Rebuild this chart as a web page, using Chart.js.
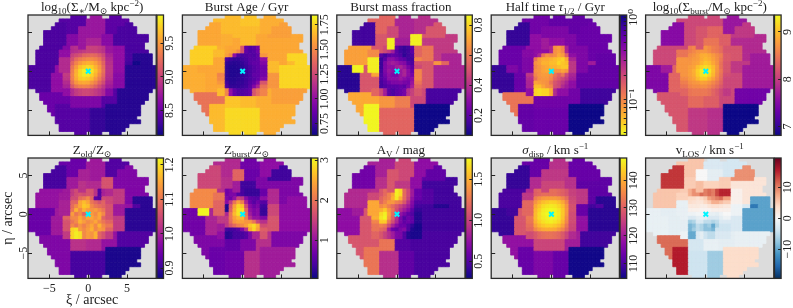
<!DOCTYPE html>
<html><head><meta charset="utf-8">
<style>html,body{margin:0;padding:0;background:#fff;width:793px;height:308px;overflow:hidden}
canvas{position:absolute;left:0;top:0}</style>
<script src="https://cdn.jsdelivr.net/npm/chart.js@4"></script>
</head><body>
<script>
// Shared spatial-bin map: one character per grid cell; '.' is no data; '#' belongs to the 11x11 inner bins
const binMap=[
"...........aaaa.bbb..ccc.........",
"........aaaaaaabbbbbcccccc.......",
".......dddaaaaabbbbbcccccjj......",
"......ddddaaahhhiiiicccjjjjj.....",
"....ddddddaaahhhiiiicccjjjjj.....",
"....ddddddeeehhhiiigggjjjjjjkkk..",
"....ddddddeeeffFFFFgggkkkkkkkkk..",
"....ddddddeeeffFFFFgggkkkkkkkk...",
"...llllllee##ff#######CCCkkkkk...",
"..llllllmmm###########CCCkkkkkk..",
"..llllllmmm###########CCCkkzzzzz.",
"..llllllooo###########CCCkkzzzzz.",
"..llllllooo###########DDDBBGGzzz.",
"ppppnnnqooo###########DDDzzzzzzzz",
"ppppnnnqooo###########DDDzzzzzzzz",
"ppppppqqq#############EEEzzzzzzzz",
"ppppppqqq#############EEEzzzzzzzz",
"ppppppqqq#############EEEzzzzzzzz",
"ppppppqqq#############EEEzzzzzzzz",
"..ppppqqq#############Avvvvvvvvv.",
"...rrrrrr#############Avvvvvvvv..",
"...rrrrrrrrxxxxyyyyAAAAvvvvvvvv..",
"....rrrrrrrxxxxyyyyAAAAvvvvvvv...",
".....rrssssxxxxyyyyAwwwwwwwww....",
".....rrsssstttttuuuuwwwwwwwww....",
"......rsssstttttuuuuwwwwwwwww....",
".......sssstttttuuuuwwwwwwww.....",
".......sssstttttuuuuwwwwwwwww....",
"........ssstttttuuuuwwwwww.......",
"........ssstttttuuuuwwwww........",
"............ttt.uuu..www........."];
const outerBins="abcdefghijklmnopqrstuvwxyzABCDEFG";
const innerColGroup=[0,0,1,2,3,4,5,6,7,8,9,10,10];
const innerRowGroup=[0,0,1,2,3,4,5,6,7,8,9,10,10];
const xCenters=[-7.5,-7,-6.5,-6,-5.5,-5,-4.5,-4,-3.5,-3,-2.5,-2,-1.5,-1,-.5,0,.5,1,1.5,2,2.5,3,3.5,4,4.5,5,5.5,6,6.5,7,7.5,8,8.5];
const yCenters=[7,6.5,6,5.5,5,4.5,4,3.5,3,2.5,2,1.5,1,.5,0,-.5,-1,-1.5,-2,-2.5,-3,-3.5,-4,-4.5,-5,-5.5,-6,-6.5,-7,-7.5,-8];
const mapTicks=[-5,0,5];

// Values per bin: the 33 outer bins, then 11 rows of 11 inner bins
const stellarMass=[8.40,8.72,8.43,8.36,8.61,8.72,8.63,8.72,8.72,8.35,8.35,8.36,8.67,8.36,8.85,8.36,8.67,8.49,8.40,8.40,8.27,8.22,8.22,8.58,8.58,8.22,8.40,8.31,8.67,8.67,8.63,8.81,8.15,
8.72,8.85,8.88,8.92,8.95,8.99,8.99,8.99,8.95,8.9,8.72,
8.81,8.99,9.05,9.1,9.2,9.22,9.25,9.22,9.15,9.03,8.8,
8.85,9.08,9.25,9.33,9.38,9.42,9.42,9.38,9.3,9.12,8.85,
8.88,9.2,9.38,9.5,9.58,9.62,9.6,9.52,9.4,9.2,8.88,
8.92,9.3,9.5,9.68,9.75,9.8,9.75,9.62,9.47,9.25,8.9,
8.95,9.35,9.6,9.78,9.88,9.92,9.84,9.68,9.5,9.27,8.9,
8.95,9.38,9.62,9.78,9.86,9.85,9.76,9.62,9.42,9.22,8.88,
8.92,9.36,9.58,9.72,9.75,9.72,9.65,9.5,9.33,9.15,8.85,
8.85,9.28,9.48,9.56,9.58,9.56,9.46,9.36,9.2,9.05,8.8,
8.8,9.14,9.3,9.36,9.38,9.36,9.28,9.18,9.05,8.92,8.75,
8.67,8.85,8.95,9.0,9.03,9.03,9.0,8.95,8.9,8.82,8.61];
const burstAge=[1.67,1.70,1.63,1.61,1.63,1.61,1.61,1.67,1.67,1.58,1.61,1.73,1.67,1.61,1.61,1.63,1.61,1.42,1.67,1.76,1.76,1.58,1.63,1.70,1.67,1.75,1.63,1.61,1.61,1.67,1.55,1.67,1.67,
1.61,1.61,1.6,1.58,1.5,1.3,.85,.8,.82,.9,1.61,
1.61,1.58,1.5,1.0,.8,.78,.8,.82,.8,.85,1.55,
1.61,.78,.74,.72,.72,.75,.78,.82,.82,.85,1.0,
1.55,.72,.7,.69,.7,.72,.76,.82,.85,.85,.95,
1.5,.7,.68,.68,.69,.7,.74,.78,.82,.85,.9,
1.42,.7,.68,.68,.68,.7,.74,.78,.82,.85,.9,
1.48,.7,.68,.68,.69,.71,.74,.78,.85,.85,.9,
1.5,.7,.69,.69,.7,.72,.75,.78,.82,.86,.95,
1.55,.75,.7,.7,.72,.72,.75,.8,.85,.95,1.3,
1.61,.8,.72,.72,.72,.74,.76,.82,.95,1.1,1.42,
1.67,1.48,1.0,.85,.8,.8,.82,.85,1.3,1.4,1.48];
const burstFraction=[.55,.37,.40,.15,.51,.85,.85,.47,.37,.51,.43,.69,.64,.86,.85,.11,.51,.71,.86,.55,.55,.16,.07,.67,.61,.37,.47,.67,.59,.51,.51,.35,.55,
.67,.51,.47,.43,.35,.2,.15,.13,.15,.2,.55,
.79,.2,.15,.2,.22,.2,.18,.12,.15,.17,.55,
.79,.14,.2,.3,.3,.26,.22,.2,.15,.15,.63,
.83,.14,.27,.33,.35,.33,.3,.28,.2,.17,.5,
.83,.14,.27,.31,.3,.35,.37,.33,.26,.2,.47,
.83,.15,.27,.33,.3,.27,.33,.37,.3,.22,.63,
.7,.17,.25,.31,.27,.27,.33,.37,.3,.25,.63,
.51,.18,.22,.3,.3,.3,.33,.3,.27,.3,.63,
.51,.16,.2,.24,.27,.27,.28,.26,.25,.33,.59,
.51,.16,.18,.2,.2,.2,.22,.2,.27,.36,.55,
.55,.47,.35,.2,.17,.2,.22,.25,.4,.45,.51];
const halfTime=[.51,.58,.58,.82,.39,.33,.46,.46,.46,.55,.55,.55,.43,.46,.46,.82,.55,.12,.58,.55,.55,.77,1.07,.51,.51,.58,.51,.33,.46,.46,.58,.39,.58,
.46,.39,.39,.39,.39,.3,.09,.08,.1,.3,.46,
.39,.39,.3,.12,.09,.1,.09,.07,.08,.15,.39,
.33,.12,.08,.07,.07,.065,.06,.055,.05,.07,.3,
.28,.09,.08,.065,.065,.06,.06,.05,.055,.06,.24,
.24,.1,.085,.075,.07,.065,.065,.06,.055,.055,.24,
.2,.09,.085,.075,.07,.07,.085,.085,.075,.085,.24,
.24,.1,.085,.08,.08,.09,.12,.15,.12,.2,.3,
.28,.12,.09,.085,.085,.1,.14,.17,.2,.24,.33,
.3,.075,.08,.085,.09,.12,.17,.2,.24,.3,.39,
.3,.06,.06,.075,.09,.1,.18,.2,.28,.33,.39,
.39,.05,.046,.05,.05,.07,.28,.39,.39,.39,.51];
const burstMass=[8.09,8.09,7.65,7.52,8.09,8.21,8.29,8.21,8.34,7.96,7.83,8.09,8.47,7.70,8.72,7.45,8.34,8.21,8.21,7.96,7.88,7.37,6.81,8.39,8.29,7.70,8.09,7.96,8.21,7.96,8.09,8.47,7.70,
8.47,8.55,8.62,8.7,8.72,8.72,8.65,8.55,8.5,8.4,8.21,
8.6,8.65,8.7,8.78,8.88,8.9,8.85,8.75,8.65,8.55,8.25,
8.65,8.7,8.75,8.78,8.88,8.95,8.9,8.8,8.68,8.5,8.25,
8.65,8.72,8.78,8.82,8.95,9.05,9.0,8.85,8.7,8.45,8.21,
8.7,8.78,8.82,9.0,9.12,9.2,9.12,8.98,8.75,8.45,8.21,
8.72,8.8,8.9,9.1,9.28,9.36,9.25,9.0,8.72,8.5,8.21,
8.72,8.8,8.88,9.08,9.25,9.3,9.15,8.95,8.68,8.45,8.15,
8.65,8.75,8.82,8.98,9.1,9.1,8.95,8.8,8.6,8.4,8.09,
8.55,8.68,8.72,8.75,8.82,8.8,8.72,8.62,8.5,8.34,8.09,
8.47,8.6,8.65,8.65,8.68,8.68,8.6,8.5,8.4,8.25,8.09,
8.34,8.47,8.5,8.5,8.5,8.5,8.45,8.34,8.25,8.1,7.96];
const zOld=[.94,.99,.92,.91,.99,1.02,1.06,1.0,.99,.96,.96,.98,.99,.94,1.0,.94,.99,.96,.96,.91,.91,.92,.88,1.02,1.01,.89,.98,.98,1.03,.99,1.03,1.01,.92,
1.02,1.03,1.05,1.06,1.05,1.06,1.06,1.02,.92,1.0,1.01,
1.045,1.05,1.05,1.09,1.1,1.12,1.08,.93,.92,1.05,1.045,
1.045,1.08,1.08,1.15,1.17,1.15,1.1,1.08,1.06,1.08,1.045,
1.045,1.09,1.12,1.15,1.18,1.17,1.12,1.1,1.09,1.08,1.06,
1.06,1.1,1.16,1.12,1.16,1.14,1.13,1.14,1.12,1.1,1.06,
1.08,1.14,1.1,1.12,1.08,1.1,1.14,1.12,1.15,1.12,1.06,
1.08,1.12,1.12,1.15,1.12,1.15,1.15,1.13,1.15,1.08,1.06,
1.06,1.1,1.12,1.16,1.14,1.12,1.13,1.15,1.12,1.1,1.08,
1.06,1.12,1.1,1.13,1.11,1.13,1.15,1.12,1.16,1.12,1.1,
1.06,1.19,1.2,1.14,1.12,1.14,1.16,1.12,1.14,1.13,1.08,
1.03,1.19,1.21,1.2,1.12,1.14,1.13,1.16,1.08,1.06,1.03];
const zBurst=[1.25,.71,.95,1.55,1.31,1.1,.8,1.85,.65,.35,.8,2.2,2.0,3.03,1.85,.71,1.19,.8,.65,.71,1.31,.8,1.1,.59,.8,.95,1.31,.95,1.25,1.55,1.7,.35,.95,
.65,.7,.8,.8,.5,.4,.3,.3,.3,.3,.65,
.95,.8,.7,1.0,1.5,1.4,.9,.6,.55,.5,.95,
1.2,.9,1.4,2.0,2.4,2.1,1.2,.7,.5,.7,.5,
1.55,.15,1.7,2.4,2.8,2.7,1.6,.9,.7,.8,.35,
1.55,.15,1.8,2.5,2.9,2.9,1.9,1.0,.8,.9,.3,
1.55,1.2,2.0,2.6,2.9,2.9,2.0,1.1,.8,.9,.3,
1.4,1.4,2.0,2.4,2.6,2.6,2.1,1.3,1.0,1.0,.8,
1.4,1.4,1.9,2.3,2.4,2.4,2.3,2.3,2.0,1.5,1.3,
1.1,1.4,1.7,1.9,2.1,2.2,2.4,2.7,2.85,2.5,1.6,
1.1,.4,.35,.4,.5,.8,1.3,2.5,2.8,2.4,1.8,
.95,.2,.25,.4,.4,.4,.5,.8,1.2,1.2,1.7];
const extinction=[.83,1.03,.73,.61,.91,1.1,.73,1.1,1.03,.55,.44,.88,1.03,.80,1.47,.73,1.1,1.1,1.25,.91,.55,.47,.47,1.25,.51,.44,.47,.36,.51,.44,.44,.95,.36,
.95,1.1,1.2,1.3,1.45,1.73,1.65,1.2,1.03,.8,.58,
1.03,1.17,1.25,1.3,1.5,1.7,1.5,1.2,1.0,.75,.58,
1.03,1.2,1.3,1.4,1.4,1.3,1.25,1.1,.9,.7,.5,
1.32,1.35,1.4,1.3,1.2,1.1,1.0,.9,.8,.66,.45,
1.4,1.5,1.6,1.4,1.25,1.05,.9,.8,.7,.55,.4,
1.5,1.65,1.73,1.45,1.2,.95,.75,.65,.55,.5,.36,
1.5,1.7,1.75,1.4,1.15,.9,.65,.5,.6,.55,.36,
1.32,1.6,1.6,1.25,1.05,.85,.65,.55,.6,.55,.36,
1.25,1.3,1.25,1.05,.85,.7,.6,.6,.5,.4,.32,
1.25,1.2,1.15,.8,.6,.55,.65,.7,.5,.35,.32,
1.17,1.1,1.0,.9,.8,.66,.65,.5,.36,.33,.33];
const sigmaDisp=[113,123,113,108,122,126,123,124,124,113,112,110,124,109,131,108,128.5,118,113,115.5,113,109,105,126,126,107,120,109,124,113,118,126,111,
128.5,130,131,132,132,132,132,131,130,128.5,125.4,
131.5,134,136,137.5,138,138,138,137,135,132,126.3,
132,137,140,142,143,144,143.5,142,139.5,135,127,
132.8,139.5,142.5,145,146,146.5,146,144.5,142,137,128,
134,141,144,146.5,147.5,148,147.5,146,143,137.5,128,
134,141.5,145,147,148,148,148,146.5,143,137,127,
133.5,141.5,145,146.5,147.5,148,147.5,146,142.5,136,127,
133,140.5,143.5,145.5,146.5,147,146,144.5,141,135,127,
132,138.5,141.5,143,144,144,143,141.5,138.5,133,126.3,
131,135.5,138,139.5,140,140,139.5,137.5,135,131,126,
127,129,131,132,132.5,132.5,132,131,129,126,122];
const vLos=[5.5,-3,-3.5,14,5,6,5,0,-2,9,2.5,5.5,4.5,-2,-1.5,-1.5,-2,11,15.5,-4,-7,-1.5,3.5,-3.5,-1.5,-10.5,-2,-3,1,-1,-3,4.5,-14,
5,7,9,9,11,10,11,10,13,15,15,
3,4,4,3,4,5,8,9,10,11,8,
3,3.5,3,2.5,2.5,4,5,7,7,6,5,
1,2,2,2,1.5,1.5,2.5,3,3,2.5,2,
.5,1,1,1,.5,.5,.5,1,1,1,1,
-1,-1,-1,-.5,-.5,-.5,-1.5,-1.5,-2,-1,0,
-1.5,-3,-3,-2,-1.5,-2,-3,-3,-3,-2,-1,
-2,-7,-6,-3,-3,-5,-5,-6,-5,-3,-3,
-2,-9,-8,-5,-6,-8,-7,-10,-6,-4,-4,
-2,-9,-7,-5,-6,-8,-8,-9,-4,-4,-4,
-1,-10,-10,-3,-2,-4,-5,-5,-3,-3,-3];

// Colour bar tick labels
const massTicks=[8.5,9.0,9.5];
const ageTicks=[.75,1,1.25,1.5,1.75];
const fractionTicks=[.2,.4,.6,.8];
const halfTimeTicks=[1,.1];
const halfTimeMinor=[.04,.05,.06,.07,.08,.09,.2,.3,.4,.5,.6,.7,.8,.9];
const burstMassTicks=[7,8,9];
const zOldTicks=[.9,1,1.1,1.2];
const zBurstTicks=[1,2,3];
const avTicks=[.5,1,1.5];
const sigmaTicks=[110,120,130,140];
const vTicks=[-10,0,10];

const plasma=['#0d0887','#41049d','#6a00a8','#8f0da4','#b12a90','#cc4778','#e16462','#f2844b','#fca636','#fcce25','#f0f921'];
const plasmaR=plasma.slice().reverse();
const rdbuR=['#053061','#2166ac','#4393c3','#92c5de','#d1e5f0','#f7f7f7','#fddbc7','#f4a582','#d6604d','#b2182b','#67001f'];

const FONT='"Liberation Serif","DejaVu Serif",serif';
const S='sub',P='sup',I='it';
const panels=[
{v:stellarMass,min:8.13,max:9.92,cm:plasma,t:massTicks,f:x=>x.toFixed(1),title:[['log'],['10',S],['(Σ'],['∗',S],['/M'],['⊙',S],[' kpc'],['−2',P],[')']]},
{v:burstAge,min:.63,max:1.85,cm:plasma,t:ageTicks,f:x=>x.toFixed(2),title:[['Burst Age / Gyr']]},
{v:burstFraction,min:.067,max:.867,cm:plasma,t:fractionTicks,f:x=>x.toFixed(1),title:[['Burst mass fraction']]},
{v:halfTime,min:.037,max:1.07,cm:plasmaR,log:true,t:halfTimeTicks,minor:halfTimeMinor,f:x=>x===1?'10⁰':'10⁻¹',title:[['Half time '],['τ',I],['1/2',S],[' / Gyr']]},
{v:burstMass,min:6.81,max:9.36,cm:plasma,t:burstMassTicks,f:x=>String(x),title:[['log'],['10',S],['(Σ'],['burst',S],['/M'],['⊙',S],[' kpc'],['−2',P],[')']]},
{v:zOld,min:.87,max:1.22,cm:plasma,t:zOldTicks,f:x=>x.toFixed(1),title:[['Z'],['old',S],['/Z'],['⊙',S]]},
{v:zBurst,min:.05,max:3.05,cm:plasma,t:zBurstTicks,f:x=>String(x),title:[['Z'],['burst',S],['/Z'],['⊙',S]]},
{v:extinction,min:.29,max:1.76,cm:plasma,t:avTicks,f:x=>x.toFixed(1),title:[['A'],['V',S],[' / mag']]},
{v:sigmaDisp,min:104.6,max:148,cm:plasma,t:sigmaTicks,f:x=>String(x),title:[['σ',I],['disp',S],[' / km s'],['−1',P]]},
{v:vLos,min:-19.5,max:19.5,cm:rdbuR,t:vTicks,f:x=>(x<0?'−':'')+Math.abs(x),title:[['v'],['LOS',S],[' / km s'],['−1',P]]}
];

const W=793,H=308,LEFT=28,STEP=154.4,PW=128.2,TOPS=[15,158],PH=120.4,AXW=28,AXH=30;
const mctx=document.createElement('canvas').getContext('2d');
const tickFont={family:FONT,size:12};
function textW(s,size){mctx.font=size+'px '+FONT;return mctx.measureText(s).width}
function colorAt(cm,t){t=Math.max(0,Math.min(1,t))*(cm.length-1);const i=Math.min(cm.length-2,Math.floor(t)),k=t-i;
  const h=s=>[1,3,5].map(j=>parseInt(s.substr(j,2),16));const a=h(cm[i]),b=h(cm[i+1]);
  return 'rgb('+a.map((x,j)=>Math.round(x+(b[j]-x)*k)).join(',')+')'}
function newCanvas(){const c=document.createElement('canvas');c.width=W;c.height=H;c.style.width=W+'px';c.style.height=H+'px';c.style.pointerEvents='none';document.body.appendChild(c);return c}
function drawSegs(ctx,segs,cx,base){
  const fs=s=>{const k=s[1];return (k===S||k===P?9:13)};
  const fnt=s=>(s[1]===I?'italic ':'')+fs(s)+'px '+FONT;
  let tot=0;segs.forEach(s=>{ctx.font=fnt(s);tot+=ctx.measureText(s[0]).width});
  let x=cx-tot/2;ctx.textAlign='left';ctx.textBaseline='alphabetic';ctx.fillStyle='#222';
  segs.forEach(s=>{ctx.font=fnt(s);const dy=s[1]===S?3:s[1]===P?-5:0;ctx.fillText(s[0],x,base+dy);x+=ctx.measureText(s[0]).width});
}
const framePlugin={id:'frame',
  beforeDatasetsDraw(ch,a,o){if(!o.bg)return;const c=ch.chartArea,x=ch.ctx;x.save();x.fillStyle=o.bg;x.fillRect(c.left,c.top,c.width,c.height);x.restore()},
  afterDraw(ch,a,o){const c=ch.chartArea,x=ch.ctx;x.save();x.strokeStyle='#2a2a2a';x.lineWidth=1.3;x.strokeRect(c.left,c.top,c.width,c.height);
    if(o.title)drawSegs(x,o.title,(c.left+c.right)/2,c.top-4);x.restore()}};

panels.forEach((p,i)=>{
  const col=i%5,row=Math.floor(i/5),x0=LEFT+col*STEP,x1=x0+PW,y0=TOPS[row],y1=y0+PH;
  const cells=[],cols=[];
  binMap.forEach((line,r)=>{for(let c=0;c<line.length;c++){const ch=line[c];if(ch==='.')continue;
    const id=ch==='#'?outerBins.length+11*innerRowGroup[r-8]+innerColGroup[c-9]:outerBins.indexOf(ch);
    const val=p.v[id];
    const t=p.log?(Math.log10(val)-Math.log10(p.min))/(Math.log10(p.max)-Math.log10(p.min)):(val-p.min)/(p.max-p.min);
    cells.push({x:xCenters[c],y:yCenters[r]});cols.push(colorAt(p.cm,t));}});
  const isCorner=i===5;
  const labW=textW('−5',12);
  new Chart(newCanvas(),{type:'scatter',
    data:{datasets:[
      {data:[{x:0,y:0}],order:0,pointStyle:'crossRot',pointRadius:3.2,borderColor:'#00f5ff',backgroundColor:'#00f5ff',borderWidth:2,pointBorderWidth:2},
      {data:cells,order:1,pointStyle:'rect',backgroundColor:cols,borderColor:cols,pointBorderWidth:.8,
       pointRadius:c=>(c.chart.chartArea?c.chart.chartArea.width/33:3.88)*Math.SQRT1_2}
    ]},
    options:{responsive:false,animation:false,devicePixelRatio:1,events:[],
      layout:{padding:{left:x0-AXW,right:W-x1,top:y0,bottom:H-y1-AXH}},
      plugins:{legend:{display:false},tooltip:{enabled:false},title:{display:false},frame:{bg:'#dcdcdc',title:p.title}},
      scales:{
        x:{type:'linear',min:-7.75,max:8.75,afterBuildTicks:s=>{s.ticks=mapTicks.map(v=>({value:v}))},afterFit:s=>{s.height=AXH},
          grid:{drawOnChartArea:false,drawTicks:true,tickLength:-4,tickColor:'#222',z:1},border:{display:false},
          ticks:{display:isCorner,font:tickFont,color:'#222',padding:7,autoSkip:false,maxRotation:0,callback:v=>(v<0?'−':'')+Math.abs(v)},
          title:{display:isCorner,text:'ξ / arcsec',font:{family:FONT,size:14},color:'#222',padding:0}},
        y:{type:'linear',min:-8.25,max:7.25,afterBuildTicks:s=>{s.ticks=mapTicks.map(v=>({value:v}))},afterFit:s=>{s.width=AXW},
          grid:{drawOnChartArea:false,drawTicks:true,tickLength:-4,tickColor:'#222',z:1},border:{display:false},
          ticks:{display:isCorner,font:tickFont,color:'#222',padding:8-labW/2,autoSkip:false,minRotation:90,maxRotation:90,crossAlign:'center',callback:v=>(v<0?'−':'')+Math.abs(v)},
          title:{display:isCorner,text:'η / arcsec',font:{family:FONT,size:14},color:'#222',padding:0}}
      }},
    plugins:[framePlugin]});

  // colour bar
  const cb0=x1+.7,cb1=cb0+6.6,CBW=12;
  const labels=p.t.map(p.f);const wid=Math.max(...labels.map(s=>textW(s,12)));
  const allTicks=p.t.concat(p.minor||[]);
  new Chart(newCanvas(),{type:'bar',
    data:{labels:[''],datasets:[{data:[[p.min,p.max]],barPercentage:1,categoryPercentage:1,borderSkipped:false,borderWidth:0,
      backgroundColor:c=>{const a=c.chart.chartArea;if(!a)return p.cm[0];const g=c.chart.ctx.createLinearGradient(0,a.bottom,0,a.top);p.cm.forEach((s,k)=>g.addColorStop(k/(p.cm.length-1),s));return g}}]},
    options:{responsive:false,animation:false,devicePixelRatio:1,events:[],
      layout:{padding:{left:cb0,right:W-cb1-CBW,top:y0,bottom:H-y1}},
      plugins:{legend:{display:false},tooltip:{enabled:false},frame:{}},
      scales:{
        x:{display:false},
        y:{type:p.log?'logarithmic':'linear',position:'right',min:p.min,max:p.max,
          afterBuildTicks:s=>{s.ticks=allTicks.map(v=>({value:v}))},afterFit:s=>{s.width=CBW},
          grid:{drawOnChartArea:false,drawTicks:true,tickLength:-3,tickColor:'#222',z:1},border:{display:false},
          ticks:{font:tickFont,color:'#222',padding:3+6.7-wid/2,autoSkip:false,minRotation:90,maxRotation:90,crossAlign:'center',
            callback:v=>p.t.includes(v)?p.f(v):''}}
      }},
    plugins:[framePlugin]});
});
</script>
</body></html>
